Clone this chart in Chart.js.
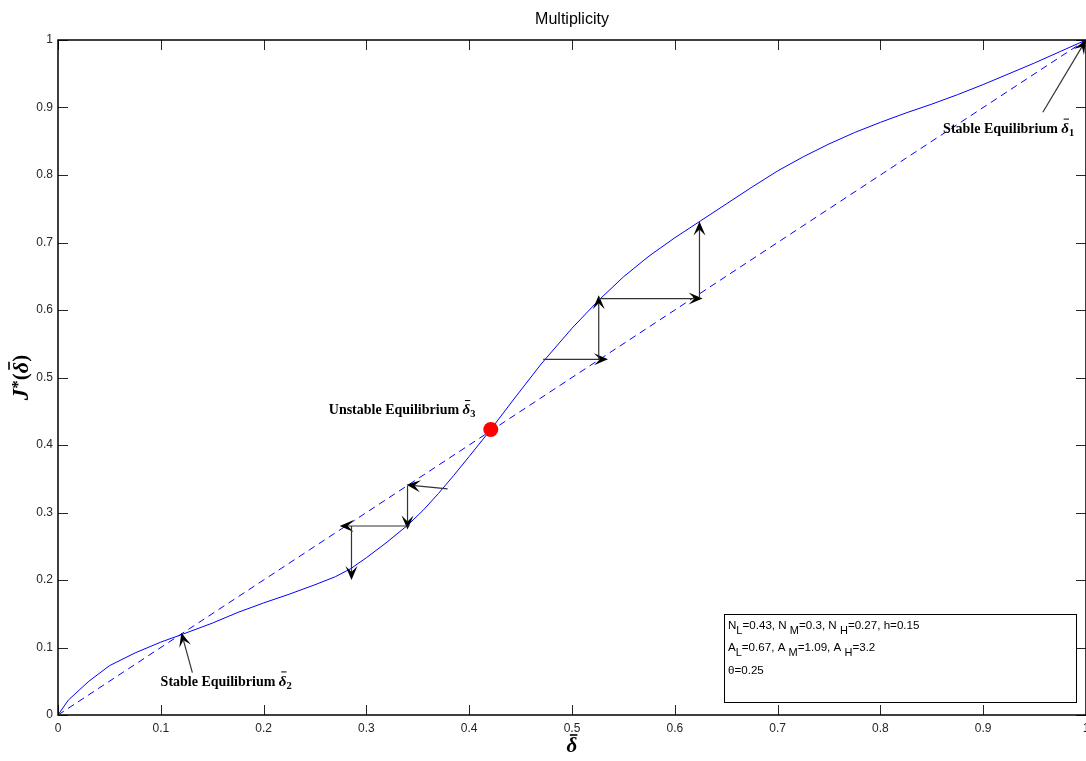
<!DOCTYPE html>
<html>
<head>
<meta charset="utf-8">
<script src="https://cdn.jsdelivr.net/npm/chart.js@4.4.1/dist/chart.umd.min.js"></script>
<style>
  html,body{margin:0;padding:0;background:#fff;}
  #wrap{width:1086px;height:761px;position:relative;}
</style>
</head>
<body>
<div id="wrap"><canvas id="multChart" width="1086" height="761"></canvas></div>
<script>
// values
const curveX = [0, 0.01, 0.03, 0.05, 0.075, 0.1, 0.12, 0.15, 0.175, 0.2, 0.225, 0.25, 0.27, 0.285, 0.3, 0.32, 0.34, 0.355, 0.37, 0.385, 0.4, 0.42, 0.445, 0.47, 0.5, 0.525, 0.55, 0.575, 0.6, 0.625, 0.65, 0.675, 0.7, 0.725, 0.75, 0.775, 0.8, 0.825, 0.85, 0.875, 0.9, 0.925, 0.95, 0.975, 1];
const curveY = [0, 0.022, 0.05, 0.073, 0.092, 0.108, 0.119, 0.136, 0.152, 0.166, 0.179, 0.193, 0.205, 0.217, 0.233, 0.256, 0.281, 0.303, 0.328, 0.355, 0.383, 0.421, 0.471, 0.52, 0.573, 0.613, 0.649, 0.68, 0.707, 0.732, 0.757, 0.782, 0.806, 0.827, 0.846, 0.863, 0.878, 0.892, 0.905, 0.919, 0.934, 0.95, 0.966, 0.983, 1];
const diagX = [0, 1];
const diagY = [0, 1];
const unstableX = [0.421];
const unstableY = [0.423];

const xTickValues = [0,0.1,0.2,0.3,0.4,0.5,0.6,0.7,0.8,0.9,1];
const xTickLabels = ["0","0.1","0.2","0.3","0.4","0.5","0.6","0.7","0.8","0.9","1"];
const yTickValues = [0,0.1,0.2,0.3,0.4,0.5,0.6,0.7,0.8,0.9,1];
const yTickLabels = ["0","0.1","0.2","0.3","0.4","0.5","0.6","0.7","0.8","0.9","1"];

// cobweb + pointer arrows (tail -> head)
const arrowX0 = [0.472, 0.526, 0.526, 0.624, 0.379, 0.340, 0.342, 0.2855, 0.958, 0.1307];
const arrowY0 = [0.527, 0.527, 0.617, 0.617, 0.335, 0.340, 0.280, 0.280, 0.893, 0.0627];
const arrowX1 = [0.535, 0.526, 0.627, 0.624, 0.339, 0.340, 0.274, 0.2855, 1.0, 0.120];
const arrowY1 = [0.527, 0.622, 0.617, 0.731, 0.341, 0.275, 0.280, 0.200, 1.0, 0.122];

const eqLabels = ["Stable Equilibrium ", "Stable Equilibrium ", "Unstable Equilibrium "];
const eqSubs = ["1", "2", "3"];
const eqLabelX = [0.861, 0.0998, 0.2634];
const eqLabelY = [0.868, 0.049, 0.451];

const infoLines = [
  [["N",0],["L",1],["=0.43, N ",0],["M",1],["=0.3, N ",0],["H",1],["=0.27, h=0.15",0]],
  [["A",0],["L",1],["=0.67, A ",0],["M",1],["=1.09, A ",0],["H",1],["=3.2",0]],
  [["\u03b8=0.25",0]]
];
const infoLineY = [626, 648, 671];

const TXT = "#262626";
const SANS = "'Liberation Sans', Arial, sans-serif";
const SERIF = "'Liberation Serif', 'DejaVu Serif', serif";

function toPts(xs, ys){ return xs.map((x,i)=>({x:x, y:ys[i]})); }

// draws a run of parts, each {t, font, dy, bar}
function drawParts(ctx, parts, x, y){
  let cx = x;
  parts.forEach(p=>{
    ctx.font = p.font;
    ctx.fillText(p.t, cx, y + (p.dy||0));
    const w = ctx.measureText(p.t).width;
    if(p.bar){
      ctx.save();
      ctx.lineWidth = p.barW || 1;
      ctx.strokeStyle = ctx.fillStyle;
      ctx.beginPath();
      ctx.moveTo(cx + w*0.3, y + p.bar);
      ctx.lineTo(cx + w*1.0, y + p.bar);
      ctx.stroke();
      ctx.restore();
    }
    cx += w;
  });
  return cx - x;
}
function partsWidth(ctx, parts){
  let w = 0;
  parts.forEach(p=>{ ctx.font = p.font; w += ctx.measureText(p.t).width; });
  return w;
}

function arrowHead(ctx, x0, y0, x1, y1){
  const a = Math.atan2(y1-y0, x1-x0);
  const len = 14, half = 6, notch = 8;
  const ux = Math.cos(a), uy = Math.sin(a);
  const px = -uy, py = ux;
  ctx.beginPath();
  ctx.moveTo(x1, y1);
  ctx.lineTo(x1 - len*ux + half*px, y1 - len*uy + half*py);
  ctx.lineTo(x1 - notch*ux, y1 - notch*uy);
  ctx.lineTo(x1 - len*ux - half*px, y1 - len*uy - half*py);
  ctx.closePath();
  ctx.fill();
}

const decorPlugin = {
  id: 'decor',
  afterDatasetsDraw(chart){
    const ctx = chart.ctx;
    const xs = chart.scales.x, ys = chart.scales.y;
    const area = chart.chartArea;
    ctx.save();

    // inward ticks on all four sides
    ctx.strokeStyle = TXT;
    ctx.lineWidth = 1;
    ctx.beginPath();
    xTickValues.forEach(v=>{
      const px = Math.round(xs.getPixelForValue(v)) + 0.5;
      ctx.moveTo(px, area.bottom); ctx.lineTo(px, area.bottom - 10);
      ctx.moveTo(px, area.top); ctx.lineTo(px, area.top + 10);
    });
    yTickValues.forEach(v=>{
      const py = Math.round(ys.getPixelForValue(v)) + 0.5;
      ctx.moveTo(area.left, py); ctx.lineTo(area.left + 10, py);
      ctx.moveTo(area.right, py); ctx.lineTo(area.right - 10, py);
    });
    ctx.stroke();

    // axes box
    ctx.strokeStyle = "#000";
    ctx.lineWidth = 1.5;
    ctx.strokeRect(area.left, area.top, area.right - area.left, area.bottom - area.top);

    // arrows
    for(let i=0;i<arrowX0.length;i++){
      const x0 = xs.getPixelForValue(arrowX0[i]), y0 = ys.getPixelForValue(arrowY0[i]);
      const x1 = xs.getPixelForValue(arrowX1[i]), y1 = ys.getPixelForValue(arrowY1[i]);
      ctx.strokeStyle = "#333";
      ctx.lineWidth = 1.2;
      ctx.beginPath();
      ctx.moveTo(x0, y0);
      const a = Math.atan2(y1-y0, x1-x0);
      ctx.lineTo(x1 - 8*Math.cos(a), y1 - 8*Math.sin(a));
      ctx.stroke();
      ctx.fillStyle = "#000";
      arrowHead(ctx, x0, y0, x1, y1);
    }

    // equilibrium labels
    ctx.fillStyle = "#000";
    ctx.textBaseline = "middle";
    ctx.textAlign = "left";
    for(let i=0;i<eqLabels.length;i++){
      const px = xs.getPixelForValue(eqLabelX[i]);
      const py = ys.getPixelForValue(eqLabelY[i]);
      drawParts(ctx, [
        {t: eqLabels[i], font: "bold 14px " + SERIF},
        {t: "\u03b4", font: "italic bold 15px " + SERIF, bar: -10},
        {t: eqSubs[i], font: "bold 10.5px " + SERIF, dy: 4}
      ], px, py);
    }

    // parameter box
    const bx = 724.5, by = 614.5, bw = 352, bh = 88;
    ctx.strokeStyle = "#000";
    ctx.lineWidth = 1;
    ctx.fillStyle = "#fff";
    ctx.fillRect(bx, by, bw, bh);
    ctx.strokeRect(bx, by, bw, bh);
    ctx.fillStyle = "#000";
    infoLines.forEach((line, li)=>{
      const parts = line.map(s=>({t:s[0], font: (s[1] ? "11px " : "11.6px ") + SANS, dy: s[1] ? 5 : 0}));
      drawParts(ctx, parts, 728, infoLineY[li]);
    });

    // title
    ctx.fillStyle = "#000";
    ctx.textAlign = "center";
    ctx.font = "16px " + SANS;
    ctx.fillText("Multiplicity", (area.left + area.right)/2, 20);

    // x axis title
    ctx.textAlign = "left";
    const xp = [{t:"\u03b4", font:"italic bold 21px " + SERIF, bar:-12, barW:1.6}];
    drawParts(ctx, xp, (area.left + area.right)/2 - partsWidth(ctx, xp)/2, 747);

    // y axis title
    ctx.save();
    ctx.translate(22, (area.top + area.bottom)/2);
    ctx.rotate(-Math.PI/2);
    const yp = [
      {t:"J", font:"italic bold 23px " + SERIF},
      {t:"*", font:"bold 17px " + SERIF, dy:-3},
      {t:"(", font:"bold 21px " + SERIF},
      {t:"\u03b4", font:"italic bold 22px " + SERIF, bar:-13, barW:1.6},
      {t:")", font:"bold 21px " + SERIF}
    ];
    drawParts(ctx, yp, -partsWidth(ctx, yp)/2, 0);
    ctx.restore();

    ctx.restore();
  }
};

const ctx = document.getElementById("multChart").getContext("2d");
const chart = new Chart(ctx, {
  type: 'line',
  data: {
    datasets: [
      {
        label: "J*",
        data: toPts(curveX, curveY),
        borderColor: "#0000ff",
        borderWidth: 1,
        pointRadius: 0,
        tension: 0,
        fill: false,
        order: 1
      },
      {
        label: "45 deg",
        data: toPts(diagX, diagY),
        borderColor: "#0000ff",
        borderWidth: 1,
        borderDash: [7, 5],
        pointRadius: 0,
        fill: false,
        order: 2
      },
      {
        label: "unstable",
        data: toPts(unstableX, unstableY),
        showLine: false,
        pointRadius: 7.5,
        pointStyle: 'circle',
        backgroundColor: "#ff0000",
        borderColor: "#ff0000",
        borderWidth: 0,
        order: 0
      }
    ]
  },
  options: {
    responsive: false,
    animation: false,
    events: [],
    layout: { autoPadding: false, padding: { top: 40, left: 0, right: 0, bottom: 0 } },
    plugins: { legend: { display: false }, tooltip: { enabled: false }, title: { display: false } },
    scales: {
      x: {
        type: 'linear', min: 0, max: 1,
        grid: { display: false, drawTicks: false },
        border: { display: false },
        afterBuildTicks: s => { s.ticks = xTickValues.map(v=>({value:v})); },
        ticks: {
          padding: 6, color: TXT, maxRotation: 0, autoSkip: false,
          font: { family: SANS, size: 12 },
          callback: (v) => xTickLabels[xTickValues.indexOf(v)] ?? ''
        },
        afterFit: s => { s.height = 46; s.paddingLeft = 0; s.paddingRight = 0; }
      },
      y: {
        type: 'linear', min: 0, max: 1,
        grid: { display: false, drawTicks: false },
        border: { display: false },
        afterBuildTicks: s => { s.ticks = yTickValues.map(v=>({value:v})); },
        ticks: {
          padding: 5, color: TXT, autoSkip: false,
          font: { family: SANS, size: 12 },
          callback: (v) => yTickLabels[yTickValues.indexOf(v)] ?? ''
        },
        afterFit: s => { s.width = 58; s.paddingTop = 0; s.paddingBottom = 0; }
      }
    }
  },
  plugins: [decorPlugin]
});
</script>
</body>
</html>
